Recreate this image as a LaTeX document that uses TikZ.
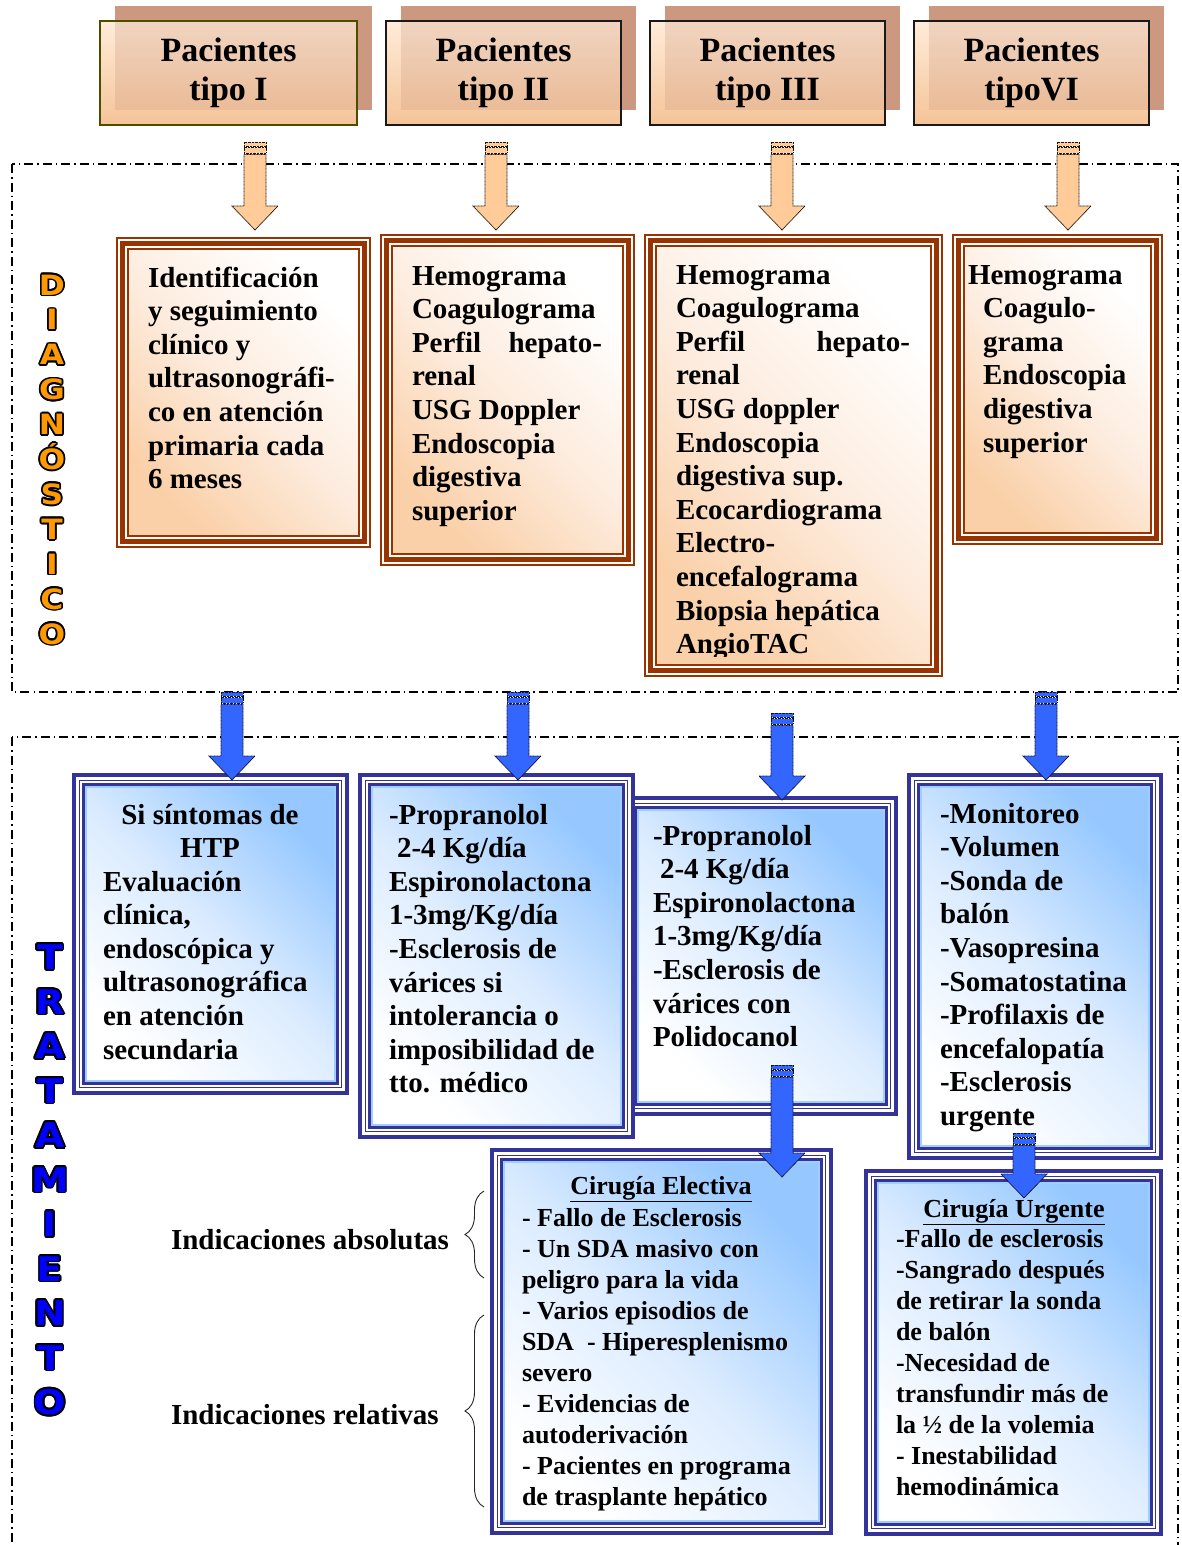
\documentclass[tikz,border=0pt]{standalone}
\usepackage{fontspec}
\setmainfont{Liberation Serif}
\newfontfamily\letterfont{DejaVu Sans Bold}[FakeStretch=1.12]
\usetikzlibrary{calc,decorations.pathreplacing}

\definecolor{brownline}{RGB}{153,51,0}
\definecolor{navyline}{RGB}{51,51,153}
\definecolor{peach}{RGB}{250,208,168}
\definecolor{peachmid}{RGB}{253,236,222}
\definecolor{skyblue}{RGB}{150,200,255}
\definecolor{skymid}{RGB}{220,236,255}
\definecolor{paleblue}{RGB}{160,205,255}
\definecolor{shadowbrown}{RGB}{204,153,128}
\definecolor{headtop}{RGB}{255,236,218}
\definecolor{headbot}{RGB}{245,196,152}
\definecolor{olive}{RGB}{77,77,0}
\definecolor{arroworange}{RGB}{255,204,153}
\definecolor{arrowblue}{RGB}{51,102,255}
\definecolor{letterorange}{RGB}{255,153,0}
\definecolor{letterblue}{RGB}{0,0,255}

\newcommand\bodyfont{\bfseries\fontsize{29}{33.6}\selectfont}
\newcommand\smallfont{\bfseries\fontsize{26}{31}\selectfont}
\newcommand\headfont{\bfseries\fontsize{34}{39}\selectfont}
\newcommand\diagletters{\letterfont\fontsize{28}{30}\selectfont}
\newcommand\tratletters{\letterfont\fontsize{34}{36}\selectfont}

% stacked lines whose baseline is that of the first line
\newcommand\leftlines[1]{\begin{tabular}[t]{@{}l@{}}#1\end{tabular}}
\newcommand\centerlines[1]{\begin{tabular}[t]{@{}c@{}}#1\end{tabular}}

% thin-thick-thin brown frame with peach gradient inside
\newcommand\brownframe[1]{%
  \fill[top color=white, bottom color=peach, middle color=peachmid, shading angle=-45]
    ([shift={(13,13)}]#1.north west) rectangle ([shift={(-13,-13)}]#1.south east);
  \draw[brownline, line width=2] ([shift={(1,1)}]#1.north west) rectangle ([shift={(-1,-1)}]#1.south east);
  \draw[brownline, line width=5] ([shift={(6.8,6.8)}]#1.north west) rectangle ([shift={(-6.8,-6.8)}]#1.south east);
  \draw[brownline, line width=2] ([shift={(12,12)}]#1.north west) rectangle ([shift={(-12,-12)}]#1.south east);
}
% navy triple frame with blue gradient inside
\newcommand\blueframe[1]{%
  \fill[top color=skyblue, bottom color=white, middle color=skymid, shading angle=-45]
    ([shift={(14,14)}]#1.north west) rectangle ([shift={(-14,-14)}]#1.south east);
  \draw[navyline, line width=4.3] ([shift={(2.15,2.15)}]#1.north west) rectangle ([shift={(-2.15,-2.15)}]#1.south east);
  \draw[navyline, line width=1.7] ([shift={(7.5,7.5)}]#1.north west) rectangle ([shift={(-7.5,-7.5)}]#1.south east);
  \draw[navyline, line width=3.3] ([shift={(11.6,11.6)}]#1.north west) rectangle ([shift={(-11.6,-11.6)}]#1.south east);
  \draw[paleblue, line width=1.6] ([shift={(14,14)}]#1.north west) rectangle ([shift={(-14,-14)}]#1.south east);
}
% striped block arrow from a top coordinate down to a tip coordinate
\newcommand\blockarrow[3]{%
  \draw[#1] ($(#2)+(-11,0)$) rectangle ($(#2)+(11,4)$);
  \draw[#1] ($(#2)+(-11,5.5)$) rectangle ($(#2)+(11,11)$);
  \draw[#1] ($(#2)+(-11,12.5)$) -- ($(#3)+(-11,-24)$) -- ($(#3)+(-23,-24)$) -- (#3)
        -- ($(#3)+(23,-24)$) -- ($(#3)+(11,-24)$) -- ($(#2)+(11,12.5)$) -- cycle;
}

\tikzset{
  panel/.style={rectangle, fill=white, draw=none, inner sep=0, outer sep=0, anchor=north west},
  headbox/.style={rectangle, anchor=north west, inner sep=0, outer sep=0, line width=2,
    top color=headtop, bottom color=headbot, align=center, font=\headfont,
    path picture={\fill[shadowbrown, opacity=0.28]
      ([shift={(15,0)}]path picture bounding box.north west) rectangle
      ([shift={(0,-15)}]path picture bounding box.south east);}},
  textblock/.style={anchor=base west, inner sep=0, outer sep=0, font=\bodyfont},
  smallblock/.style={anchor=base west, inner sep=0, outer sep=0, font=\smallfont},
  titleline/.style={anchor=base, inner sep=0, outer sep=0, font=\smallfont},
  section/.style={black, line width=1.3, dash pattern=on 9pt off 4pt on 1.5pt off 4pt},
  orangearrow/.style={fill=arroworange, draw=black!85!brown, line width=0.8, dash pattern=on 0.9pt off 0.5pt},
  bluearrow/.style={fill=arrowblue, draw=black!70!navyline, line width=0.8, dash pattern=on 0.9pt off 0.5pt},
  sidebrace/.style={decorate, decoration={brace, amplitude=19pt}, line width=0.9, black!85},
  letterglyph/.style={anchor=base, inner sep=0, outer sep=0}
}

\begin{document}
\begin{tikzpicture}[x=1pt, y=-1pt]
\useasboundingbox (0,0) rectangle (1181,1545);
\fill[white] (0,0) rectangle (1181,1545);

% section frames
\draw[section] (12,164) rectangle (1178,692);
\draw[section] (12,737) rectangle (1178,1560);

% patient headers with offset shadows
\fill[shadowbrown] (115,6) rectangle (372,110);
\fill[shadowbrown] (401,6) rectangle (636,110);
\fill[shadowbrown] (665,6) rectangle (900,110);
\fill[shadowbrown] (929,6) rectangle (1164,110);
\node[headbox, draw=olive, minimum width=257, minimum height=104] (h1) at (100,21) {\raisebox{-2pt}{\centerlines{Pacientes\\tipo I}}};
\node[headbox, draw=black!90, minimum width=235, minimum height=104] (h2) at (386,21) {\raisebox{-2pt}{\centerlines{Pacientes\\tipo II}}};
\node[headbox, draw=black!90, minimum width=235, minimum height=104] (h3) at (650,21) {\raisebox{-2pt}{\centerlines{Pacientes\\tipo III}}};
\node[headbox, draw=black!90, minimum width=235, minimum height=104] (h4) at (914,21) {\raisebox{-2pt}{\centerlines{Pacientes\\tipoVI}}};

% diagnosis boxes
\node[panel, minimum width=255, minimum height=311] (d1) at (116,237) {};
\brownframe{d1}
\node[textblock] (d1t) at (148,287) {\leftlines{Identificación\\y seguimiento\\clínico y\\ultrasonográfi-\\co en atención\\primaria cada\\6 meses}};

\node[panel, minimum width=255, minimum height=332] (d2) at (380,234) {};
\brownframe{d2}
\node[textblock] (d2t) at (412,285) {\leftlines{Hemograma\\Coagulograma\\\hbox to 190pt{Perfil\hfill hepato-}\\renal\\USG Doppler\\Endoscopia\\digestiva\\superior}};

\node[panel, minimum width=299, minimum height=443] (d3) at (644,234) {};
\brownframe{d3}
\begin{scope}
  \clip (657,247) rectangle (931,656);
  \node[textblock] (d3t) at (676,284) {\leftlines{Hemograma\\Coagulograma\\\hbox to 234pt{Perfil\hfill hepato-}\\renal\\USG doppler\\Endoscopia\\digestiva sup.\\Ecocardiograma\\Electro-\\encefalograma\\Biopsia hepática\\AngioTAC}};
\end{scope}

\node[panel, minimum width=211, minimum height=311] (d4) at (952,234) {};
\brownframe{d4}
\node[textblock] (d4t) at (983,284) {\leftlines{\hspace*{-15pt}Hemograma\\Coagulo-\\grama\\Endoscopia\\digestiva\\superior}};

% treatment boxes
\node[panel, minimum width=274, minimum height=320] (t3) at (624,796) {};
\blueframe{t3}
\node[textblock] (t3t) at (653,845) {\leftlines{-Propranolol\\\hspace*{7pt}2-4 Kg/día\\Espironolactona\\1-3mg/Kg/día\\-Esclerosis de\\várices con\\Polidocanol}};

\node[panel, minimum width=277, minimum height=322] (t1) at (72,773) {};
\blueframe{t1}
\node[anchor=base, inner sep=0, outer sep=0, font=\bodyfont] (t1a) at (210,824) {\centerlines{Si síntomas de\\HTP}};
\node[textblock] (t1b) at (103,891) {\leftlines{Evaluación\\clínica,\\endoscópica y\\ultrasonográfica\\en atención\\secundaria}};

\node[panel, minimum width=277, minimum height=366] (t2) at (358,773) {};
\blueframe{t2}
\node[textblock] (t2t) at (389,824) {\leftlines{-Propranolol\\\hspace*{8pt}2-4 Kg/día\\Espironolactona\\1-3mg/Kg/día\\-Esclerosis de\\várices si\\intolerancia o\\imposibilidad de\\tto. médico}};

\node[panel, minimum width=256, minimum height=387] (t4) at (907,773) {};
\blueframe{t4}
\node[textblock] (t4t) at (940,823) {\leftlines{-Monitoreo\\-Volumen\\-Sonda de\\balón\\-Vasopresina\\-Somatostatina\\-Profilaxis de\\encefalopatía\\-Esclerosis\\urgente}};

% surgery boxes
\node[panel, minimum width=343, minimum height=387] (ce) at (490,1148) {};
\blueframe{ce}
\node[titleline] (cet) at (661,1194) {\underline{Cirugía Electiva}};
\node[smallblock] (ceb) at (522,1226) {\leftlines{- Fallo de Esclerosis\\- Un SDA masivo con\\peligro para la vida\\- Varios episodios de\\SDA\ \ - Hiperesplenismo\\severo\\- Evidencias de\\autoderivación\\- Pacientes en programa\\de trasplante hepático}};

\node[panel, minimum width=299, minimum height=367] (cu) at (864,1169) {};
\blueframe{cu}
\node[titleline] (cut) at (1014,1217) {\underline{Cirugía Urgente}};
\node[smallblock] (cub) at (896,1247) {\leftlines{-Fallo de esclerosis\\-Sangrado después\\de retirar la sonda\\de balón\\-Necesidad de\\transfundir más de\\la ½ de la volemia\\- Inestabilidad\\hemodinámica}};

% arrow end points
\coordinate (oa1) at (255,142); \coordinate (ob1) at (255,230);
\coordinate (oa2) at (496,142); \coordinate (ob2) at (496,230);
\coordinate (oa3) at (782,142); \coordinate (ob3) at (782,230);
\coordinate (oa4) at (1068,142); \coordinate (ob4) at (1068,230);
\coordinate (ba1) at (232,692); \coordinate (bb1) at (232,780);
\coordinate (ba2) at (518,692); \coordinate (bb2) at (518,780);
\coordinate (ba3) at (782,713); \coordinate (bb3) at (782,800);
\coordinate (ba4) at (1046,692); \coordinate (bb4) at (1046,780);
\coordinate (ca) at (782,1065); \coordinate (cb) at (782,1177);
\coordinate (ua) at (1024,1133); \coordinate (ub) at (1024,1198);

\blockarrow{orangearrow}{oa1}{ob1}
\blockarrow{orangearrow}{oa2}{ob2}
\blockarrow{orangearrow}{oa3}{ob3}
\blockarrow{orangearrow}{oa4}{ob4}
\blockarrow{bluearrow}{ba1}{bb1}
\blockarrow{bluearrow}{ba2}{bb2}
\blockarrow{bluearrow}{ba3}{bb3}
\blockarrow{bluearrow}{ba4}{bb4}
\blockarrow{bluearrow}{ca}{cb}
\blockarrow{bluearrow}{ua}{ub}

% indications and braces
\node[textblock] (absl) at (171,1249) {Indicaciones absolutas};
\node[textblock] (rell) at (171,1424) {Indicaciones relativas};
\coordinate (bra1) at (484,1278); \coordinate (bra2) at (484,1191);
\coordinate (brb1) at (484,1507); \coordinate (brb2) at (484,1315);
\draw[sidebrace] (bra1) -- (bra2);
\draw[sidebrace] (brb1) -- (brb2);

% vertical section labels: black halo copies under each coloured letter
\foreach \ch [count=\i] in {D,I,A,G,N,Ó,S,T,I,C,O}{
  \foreach \a in {0,30,...,330}
    \node[letterglyph, text=black, font=\diagletters] (dgo\i-\a)
      at ($(52,{295+34.9*(\i-1)})+(\a:1.7)$) {\ch};
  \node[letterglyph, text=letterorange, font=\diagletters] (dg\i)
    at (52,{295+34.9*(\i-1)}) {\ch};
}
\foreach \ch [count=\i] in {T,R,A,T,A,M,I,E,N,T,O}{
  \foreach \a in {0,30,...,330}
    \node[letterglyph, text=black, font=\tratletters] (tro\i-\a)
      at ($(50,{969.5+44.5*(\i-1)})+(\a:1.8)$) {\ch};
  \node[letterglyph, text=letterblue, font=\tratletters] (tr\i)
    at (50,{969.5+44.5*(\i-1)}) {\ch};
}
\end{tikzpicture}
\end{document}
